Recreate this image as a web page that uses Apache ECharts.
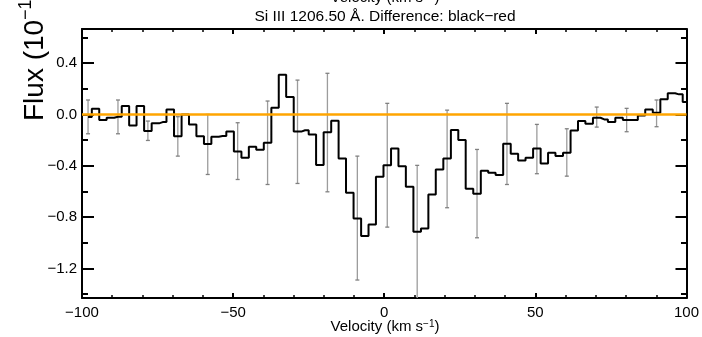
<!DOCTYPE html>
<html>
<head>
<meta charset="utf-8">
<script src="https://cdn.jsdelivr.net/npm/echarts@6/dist/echarts.min.js"></script>
<style>
  html, body { margin: 0; padding: 0; background: #fff; }
  #chart { width: 702px; height: 337px; }
</style>
</head>
<body>
<div id="chart"></div>
<script>
const velocity = [
  -98.0, -95.5, -93.1, -90.6, -88.1, -85.6, -83.2, -80.7, -78.2, -75.7,
  -73.3, -70.8, -68.3, -65.8, -63.4, -60.9, -58.4, -56.0, -53.5, -51.0,
  -48.5, -46.0, -43.6, -41.1, -38.6, -36.1, -33.7, -31.2, -28.7, -26.2,
  -23.8, -21.3, -18.8, -16.3, -13.9, -11.4, -8.9, -6.4, -4.0, -1.5,
  1.0, 3.5, 5.9, 8.4, 10.9, 13.4, 15.8, 18.3, 20.8, 23.3,
  25.7, 28.2, 30.7, 33.2, 35.6, 38.1, 40.6, 43.1, 45.5, 48.0,
  50.5, 53.0, 55.4, 57.9, 60.4, 62.9, 65.3, 67.8, 70.3, 72.8,
  75.2, 77.7, 80.2, 82.7, 85.1, 87.6, 90.1, 92.6, 95.0, 97.5,
  100.0
];

const flux = [
  -0.02, 0.044, -0.044, -0.026, -0.018, 0.065, -0.086, 0.065, -0.13, -0.07,
  -0.06, 0.039, -0.17, 0.0, -0.078, -0.17, -0.23, -0.174, -0.169, -0.133,
  -0.29, -0.338, -0.252, -0.276, -0.221, 0.052, 0.308, 0.135, -0.134, -0.124,
  -0.156, -0.394, -0.14, -0.05, -0.343, -0.61, -0.81, -0.948, -0.857, -0.486,
  -0.397, -0.265, -0.403, -0.564, -0.914, -0.889, -0.624, -0.429, -0.343, -0.122,
  -0.2, -0.579, -0.618, -0.439, -0.455, -0.473, -0.229, -0.307, -0.359, -0.338,
  -0.265, -0.382, -0.299, -0.325, -0.299, -0.125, -0.052, -0.073, -0.026, -0.039,
  -0.06, -0.026, -0.044, -0.044, -0.008, 0.039, 0.013, 0.117, 0.164, 0.156,
  0.096
];

// error bars, every 4th bin
const errVelocity = [-98.0, -88.1, -78.2, -68.3, -58.4, -48.5, -38.6, -28.7, -18.8, -8.9,
  1.0, 10.9, 20.8, 30.7, 40.6, 50.5, 60.4, 70.3, 80.2, 90.1];
const errLow = [-0.151, -0.151, -0.203, -0.325, -0.468, -0.507, -0.546, -0.538, -0.603, -1.29,
  -0.878, -1.45, -0.727, -0.961, -0.546, -0.462, -0.481, -0.099, -0.135, -0.096];
const errHigh = [0.112, 0.112, -0.052, -0.018, 0.0, -0.065, 0.104, 0.267, 0.32, -0.325,
  0.086, -0.397, 0.033, -0.273, 0.086, -0.078, -0.112, 0.057, 0.047, 0.112];

const zeroLine = [[-100, 0], [100, 0]];

const yMajor = [-1.2, -0.8, -0.4, 0.0, 0.4];
const yMinor = [-1.4, -1.0, -0.6, -0.2, 0.2, 0.6];

const FONT = '"Liberation Sans", Arial, Helvetica, sans-serif';
const minus = s => String(s).replace('-', '\u2212');

const chart = echarts.init(document.getElementById('chart'));

const xBase = (pos, labels) => ({
  type: 'value',
  position: pos,
  min: -100,
  max: 100,
  interval: 50,
  axisLine: { onZero: false, lineStyle: { color: '#000', width: 2 } },
  axisTick: { inside: true, length: 5, lineStyle: { color: '#000', width: 2 } },
  minorTick: { show: true, splitNumber: 5, length: 3, lineStyle: { color: '#000', width: 1.5 } },
  axisLabel: {
    show: labels,
    margin: 7,
    color: '#000',
    fontFamily: FONT,
    fontSize: 15,
    formatter: v => minus(v)
  },
  splitLine: { show: false }
});

const yBase = (pos, values, len, labels, line) => ({
  type: 'value',
  position: pos,
  min: -1.43,
  max: 0.665,
  axisLine: { show: line, onZero: false, lineStyle: { color: '#000', width: 2 } },
  axisTick: { inside: true, length: len, customValues: values, lineStyle: { color: '#000', width: 2 } },
  axisLabel: {
    show: labels,
    customValues: values,
    margin: 5,
    color: '#000',
    fontFamily: FONT,
    fontSize: 15,
    formatter: v => minus(v.toFixed(1))
  },
  splitLine: { show: false }
});

const option = {
  animation: false,
  backgroundColor: '#fff',
  grid: { left: 82, right: 14, top: 29, bottom: 39 },
  xAxis: [xBase('bottom', true), xBase('top', false)],
  yAxis: [
    yBase('left', yMajor, 12, true, true),
    yBase('left', yMinor, 6, false, false),
    yBase('right', yMajor, 11, false, true),
    yBase('right', yMinor, 5.5, false, false)
  ],
  graphic: [
    {
      type: 'text', x: 385, y: -2,
      style: {
        text: 'Velocity (km s{s|\u22121})',
        fontFamily: FONT, fontSize: 15, fill: '#000',
        align: 'center', verticalAlign: 'middle',
        rich: { s: { fontSize: 10, verticalAlign: 'top', fontFamily: FONT } }
      }
    },
    {
      type: 'text', x: 385, y: 17,
      style: {
        text: 'Si III 1206.50 \u00c5. Difference: black\u2212red',
        fontFamily: FONT, fontSize: 15.5, fill: '#000',
        align: 'center', verticalAlign: 'middle'
      }
    },
    {
      type: 'text', x: 385, y: 327,
      style: {
        text: 'Velocity (km s{s|\u22121})',
        fontFamily: FONT, fontSize: 15, fill: '#000',
        align: 'center', verticalAlign: 'middle',
        rich: { s: { fontSize: 10, verticalAlign: 'top', fontFamily: FONT } }
      }
    },
    {
      type: 'text', x: 35, y: 121, rotation: Math.PI / 2,
      style: {
        text: 'Flux (10',
        fontFamily: FONT, fontSize: 28, fill: '#000',
        align: 'left', verticalAlign: 'middle'
      }
    },
    {
      type: 'text', x: 26, y: 20, rotation: Math.PI / 2,
      style: {
        text: '\u221215',
        fontFamily: FONT, fontSize: 18, fill: '#000',
        align: 'left', verticalAlign: 'middle'
      }
    }
  ],
  series: [
    {
      type: 'custom',
      xAxisIndex: 0,
      yAxisIndex: 0,
      clip: true,
      z: 2,
      data: errVelocity.map((v, i) => [v, errLow[i], errHigh[i]]),
      renderItem: (params, api) => {
        const lo = api.coord([api.value(0), api.value(1)]);
        const hi = api.coord([api.value(0), api.value(2)]);
        const w = 2;
        return {
          type: 'group',
          children: [
            { type: 'line', shape: { x1: lo[0], y1: lo[1], x2: hi[0], y2: hi[1] }, style: { stroke: '#9c9c9c', lineWidth: 1.3 } },
            { type: 'line', shape: { x1: lo[0] - w, y1: lo[1], x2: lo[0] + w, y2: lo[1] }, style: { stroke: '#808080', lineWidth: 1.3 } },
            { type: 'line', shape: { x1: hi[0] - w, y1: hi[1], x2: hi[0] + w, y2: hi[1] }, style: { stroke: '#808080', lineWidth: 1.3 } }
          ]
        };
      }
    },
    {
      type: 'line',
      step: 'middle',
      z: 3,
      symbol: 'none',
      clip: true,
      data: velocity.map((v, i) => [v, flux[i]]),
      lineStyle: { color: '#000', width: 2 }
    },
    {
      type: 'line',
      z: 4,
      symbol: 'none',
      data: zeroLine,
      lineStyle: { color: '#FFA500', width: 2.5 }
    }
  ]
};

chart.setOption(option);
</script>
</body>
</html>
